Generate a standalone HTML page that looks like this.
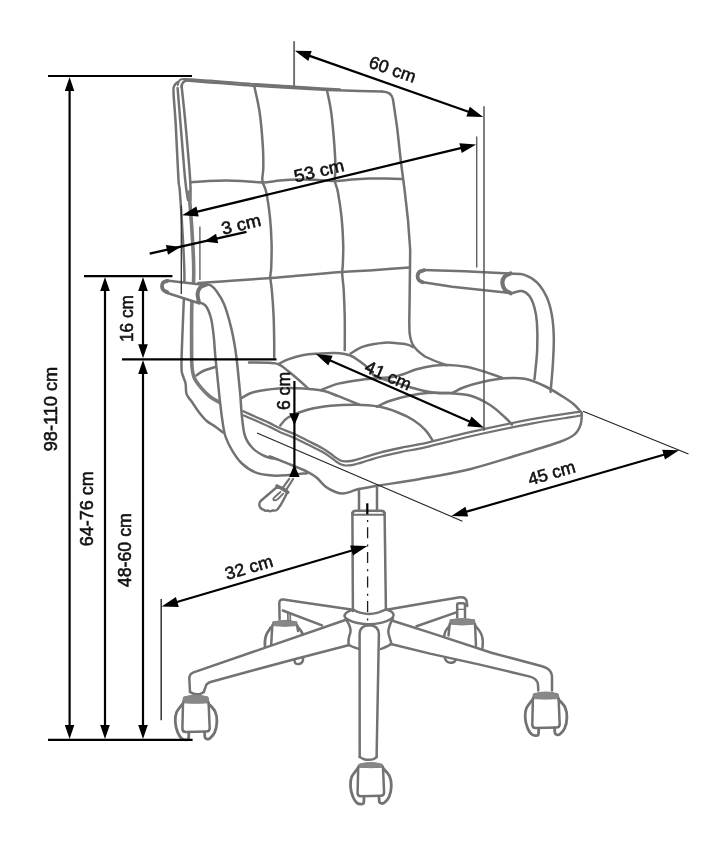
<!DOCTYPE html>
<html><head><meta charset="utf-8"><title>chair</title>
<style>
html,body{margin:0;padding:0;background:#fff;}
body{width:723px;height:854px;overflow:hidden;}
svg{display:block;filter:blur(0.35px);}
text{font-family:"Liberation Sans",sans-serif;fill:#111;}
</style></head><body>
<svg width="723" height="854" viewBox="0 0 723 854">
<rect width="723" height="854" fill="#fff"/>
<path d="M181.6,87 Q182,81 187,80.6" stroke="#727272" stroke-width="2.5" fill="none" stroke-linecap="round" stroke-linejoin="round"/>
<path d="M187.0,80.6 C190.8,80.9 202.5,81.8 210.0,82.4 C217.5,83.0 224.3,83.4 232.0,84.0 C239.7,84.6 248.0,85.3 256.0,85.8 C264.0,86.3 271.0,86.7 280.0,87.2 C289.0,87.7 299.2,88.4 310.0,89.0 C320.8,89.6 333.0,90.2 345.0,90.6 C357.0,91.0 375.8,91.4 382.0,91.6" stroke="#727272" stroke-width="2.5" fill="none" stroke-linecap="round" stroke-linejoin="round"/>
<path d="M382,91.6 Q391.6,91.8 393,99.5 L397.2,128 L400.8,161 L404.6,190 L408,220 L410.2,250 L409.6,300 L409.3,322 L409.5,332.4 Q410.5,340 412.4,344 Q415,349.5 424.9,356.5 Q435,361.5 446.5,365.2" stroke="#727272" stroke-width="2.5" fill="none" stroke-linecap="round" stroke-linejoin="round"/>
<path d="M177.8,85.0 C178.1,84.2 178.3,81.5 179.5,80.5 C180.7,79.5 179.9,78.9 185.0,78.9 C190.1,78.9 202.2,80.0 210.0,80.6 C217.8,81.1 224.3,81.6 232.0,82.2 C239.7,82.8 248.0,83.5 256.0,84.0 C264.0,84.5 271.0,84.9 280.0,85.5 C289.0,86.1 300.0,87.0 310.0,87.6 C320.0,88.2 335.0,89.0 340.0,89.3" stroke="#727272" stroke-width="2.0" fill="none" stroke-linecap="round" stroke-linejoin="round"/>
<path d="M254.3,86.2 C255.2,90.6 258.3,102.9 259.7,112.8 C261.1,122.7 262.2,136.4 262.8,145.6 C263.4,154.8 263.4,162.1 263.3,168.0 C263.2,173.9 261.9,177.0 262.4,181.0 C262.9,185.0 264.9,185.9 266.2,192.0 C267.5,198.1 269.1,209.0 270.0,217.7 C270.9,226.4 271.4,235.6 271.6,244.0 C271.8,252.4 271.4,262.5 271.2,268.0 C271.0,273.5 270.2,273.3 270.3,277.0 C270.4,280.7 271.2,283.5 271.8,290.0 C272.4,296.5 273.2,307.3 273.6,316.0 C274.0,324.7 274.1,335.1 274.2,342.0 C274.3,348.9 274.2,354.9 274.2,357.5" stroke="#727272" stroke-width="2.5" fill="none" stroke-linecap="round" stroke-linejoin="round"/>
<path d="M327.0,90.3 C327.7,94.0 330.1,103.6 331.3,112.8 C332.5,122.0 333.7,136.4 334.4,145.6 C335.1,154.8 335.4,162.2 335.5,168.0 C335.6,173.8 334.4,176.5 334.8,180.5 C335.2,184.5 336.8,185.8 337.9,192.0 C339.0,198.2 340.7,209.0 341.6,217.7 C342.5,226.4 343.0,236.1 343.2,244.0 C343.4,251.9 343.0,260.1 342.8,265.0 C342.6,269.9 342.1,269.2 342.2,273.4 C342.3,277.6 343.3,282.9 343.7,290.0 C344.1,297.1 344.5,307.3 344.7,316.0 C344.9,324.7 344.8,336.3 344.8,342.0 C344.8,347.7 344.7,348.7 344.7,350.0" stroke="#727272" stroke-width="2.5" fill="none" stroke-linecap="round" stroke-linejoin="round"/>
<path d="M190.3,182.2 C193.2,182.0 202.0,181.3 208.0,181.0 C214.0,180.7 220.3,180.5 226.5,180.5 C232.7,180.5 238.9,180.9 245.0,181.2 C251.1,181.5 257.0,182.5 262.8,182.4 C268.6,182.3 273.9,181.1 280.0,180.6 C286.1,180.1 293.2,179.7 299.5,179.6 C305.8,179.5 311.9,179.8 318.0,180.0 C324.1,180.2 330.6,181.1 336.3,181.0 C342.0,180.9 346.5,179.8 352.0,179.4 C357.5,179.0 363.5,178.7 369.2,178.5 C374.9,178.3 380.5,178.4 386.0,178.5 C391.5,178.6 399.6,178.9 402.3,179.0" stroke="#727272" stroke-width="2.5" fill="none" stroke-linecap="round" stroke-linejoin="round"/>
<path d="M198.5,283.0 C204.6,282.6 222.8,281.3 235.0,280.5 C247.2,279.7 259.7,278.9 271.5,278.0 C283.3,277.1 294.2,276.0 306.0,275.0 C317.8,274.0 330.8,272.8 342.5,272.0 C354.2,271.2 364.9,270.8 376.0,270.0 C387.1,269.2 403.8,267.8 409.4,267.4" stroke="#727272" stroke-width="2.5" fill="none" stroke-linecap="round" stroke-linejoin="round"/>
<path d="M243.3,411.3 C245.4,412.2 251.8,415.1 256.0,417.0 C260.2,418.9 264.7,420.7 268.7,422.6 C272.7,424.5 275.8,426.4 280.0,428.3 C284.2,430.2 289.2,431.7 293.8,433.8 C298.4,435.9 303.1,438.4 307.7,440.7 C312.3,443.0 317.8,445.6 321.5,447.7 C325.2,449.8 327.7,451.6 330.0,453.2 C332.3,454.8 333.6,456.1 335.3,457.3 C337.0,458.5 338.4,459.5 340.0,460.2 C341.6,460.9 343.2,461.3 345.0,461.4 C346.8,461.5 348.9,461.3 351.0,461.0 C353.1,460.7 354.7,460.2 357.5,459.4 C360.3,458.6 364.2,457.3 368.0,456.2 C371.8,455.1 374.7,454.0 380.0,452.6 C385.3,451.2 393.3,449.4 400.0,448.0 C406.7,446.6 411.7,446.0 420.0,444.2 C428.3,442.4 439.6,439.5 450.0,437.0 C460.4,434.5 468.5,432.4 482.2,429.4 C495.9,426.4 517.0,422.0 532.0,419.2 C547.0,416.4 563.8,414.0 572.0,412.8 C580.2,411.6 579.5,412.0 581.0,411.8" stroke="#727272" stroke-width="2.3" fill="none" stroke-linecap="round" stroke-linejoin="round"/>
<path d="M244.0,415.4 C246.1,416.4 252.5,419.2 256.7,421.1 C260.9,423.0 265.4,424.8 269.4,426.7 C273.4,428.6 276.5,430.5 280.7,432.4 C284.9,434.3 289.9,435.8 294.5,437.9 C299.1,440.0 303.8,442.5 308.4,444.8 C313.0,447.1 318.5,449.7 322.2,451.8 C325.9,453.9 328.4,455.7 330.7,457.3 C333.0,458.9 334.3,460.2 336.0,461.4 C337.7,462.6 339.1,463.6 340.7,464.3 C342.3,465.0 343.9,465.4 345.7,465.5 C347.5,465.6 349.6,465.4 351.7,465.1 C353.8,464.8 355.4,464.3 358.2,463.5 C361.0,462.7 364.9,461.4 368.7,460.3 C372.4,459.2 375.4,458.1 380.7,456.7 C386.0,455.3 394.0,453.5 400.7,452.1 C407.4,450.7 412.4,450.1 420.7,448.3 C429.0,446.5 440.3,443.6 450.7,441.1 C461.1,438.6 469.2,436.5 482.9,433.5 C496.6,430.5 517.7,426.1 532.7,423.3 C547.7,420.5 564.6,418.2 572.7,416.9 C580.8,415.6 580.0,415.6 581.5,415.3" stroke="#727272" stroke-width="2.2" fill="none" stroke-linecap="round" stroke-linejoin="round"/>
<path d="M270.0,456.3 C273.6,457.8 285.3,462.4 291.5,465.0 C297.7,467.6 302.8,469.5 307.0,471.6 C311.2,473.7 313.3,474.9 316.5,477.5 C319.7,480.1 322.8,484.6 326.0,487.0 C329.2,489.4 332.7,490.9 335.5,492.0 C338.3,493.1 340.4,493.7 343.0,493.6 C345.6,493.5 348.4,492.4 351.0,491.6 C353.6,490.8 354.5,490.0 358.8,489.0 C363.1,488.0 366.8,487.5 377.0,485.8 C387.2,484.1 404.5,481.8 420.0,479.0 C435.5,476.2 453.2,473.3 469.8,469.2 C486.4,465.1 504.7,459.0 519.6,454.5 C534.5,450.0 550.3,445.3 559.4,442.0 C568.5,438.7 570.8,437.5 574.3,434.6 C577.8,431.7 579.4,428.2 580.6,424.6 C581.9,421.0 581.6,414.9 581.8,413.0" stroke="#727272" stroke-width="2.5" fill="none" stroke-linecap="round" stroke-linejoin="round"/>
<path d="M249.0,362.6 C252.3,362.6 263.8,362.5 268.7,362.8 C273.6,363.1 275.2,362.8 278.4,364.2 C281.6,365.6 284.4,368.2 288.0,371.0 C291.6,373.8 296.4,377.9 299.7,380.7 C302.9,383.5 306.2,386.8 307.5,388.0" stroke="#727272" stroke-width="2.5" fill="none" stroke-linecap="round" stroke-linejoin="round"/>
<path d="M278.4,364.2 C280.0,363.4 283.8,360.9 288.0,359.4 C292.2,357.9 298.8,355.9 303.6,355.0 C308.4,354.1 311.8,354.0 317.0,353.7 C322.2,353.4 329.6,352.7 335.0,353.0 C340.4,353.3 345.6,353.9 349.7,355.3 C353.8,356.7 356.2,358.8 359.4,361.1 C362.6,363.4 366.3,366.3 369.0,368.9 C371.7,371.5 371.0,374.2 375.8,376.6 C380.6,379.0 391.1,381.3 398.0,383.4 C404.9,385.5 411.0,387.6 417.5,389.2 C424.0,390.8 431.0,392.4 436.8,393.0 C442.6,393.6 449.7,393.0 452.3,393.0" stroke="#727272" stroke-width="2.5" fill="none" stroke-linecap="round" stroke-linejoin="round"/>
<path d="M350.7,353.4 C352.8,352.3 357.6,348.4 363.2,346.6 C368.8,344.8 378.4,343.2 384.5,342.7 C390.6,342.2 396.0,343.2 400.0,343.6 C404.0,344.0 406.1,344.3 408.3,344.9 C410.5,345.5 412.2,346.8 413.0,347.2" stroke="#727272" stroke-width="2.5" fill="none" stroke-linecap="round" stroke-linejoin="round"/>
<path d="M241.6,398.0 C243.5,397.1 247.1,393.9 253.2,392.3 C259.3,390.7 270.0,389.0 278.4,388.4 C286.8,387.8 296.2,388.0 303.6,388.4 C311.0,388.8 317.2,389.4 323.0,390.7 C328.8,392.0 332.3,393.9 338.4,396.2 C344.5,398.5 355.9,403.3 359.4,404.7" stroke="#727272" stroke-width="2.5" fill="none" stroke-linecap="round" stroke-linejoin="round"/>
<path d="M321.0,390.0 C323.9,388.9 331.6,385.3 338.4,383.6 C345.2,381.9 354.5,380.6 361.7,379.7 C368.9,378.8 378.3,378.3 381.6,378.0" stroke="#727272" stroke-width="2.5" fill="none" stroke-linecap="round" stroke-linejoin="round"/>
<path d="M381.6,378.0 C383.3,377.8 388.3,377.7 392.0,377.0 C395.7,376.3 399.9,375.3 404.0,374.0 C408.1,372.7 411.7,370.6 416.6,369.2 C421.5,367.8 427.9,366.4 433.2,365.7 C438.5,365.0 442.9,364.8 448.4,365.0 C453.9,365.2 460.4,365.8 466.0,366.8 C471.6,367.8 476.2,369.2 482.2,371.0 C488.2,372.8 498.7,376.7 502.0,377.8" stroke="#727272" stroke-width="2.5" fill="none" stroke-linecap="round" stroke-linejoin="round"/>
<path d="M280.3,425.5 C281.6,424.2 283.5,420.1 288.0,417.5 C292.5,414.9 300.4,411.6 307.5,409.7 C314.6,407.8 322.6,406.6 330.7,405.8 C338.8,405.0 347.9,404.6 355.9,404.7 C363.9,404.8 371.7,405.3 378.7,406.6 C385.7,407.9 392.2,410.2 398.0,412.5 C403.8,414.8 409.1,417.3 413.6,420.2 C418.1,423.1 422.1,426.6 425.2,429.9 C428.3,433.2 431.2,438.3 432.4,440.0" stroke="#727272" stroke-width="2.5" fill="none" stroke-linecap="round" stroke-linejoin="round"/>
<path d="M376.8,406.6 C379.1,405.6 385.1,402.6 390.3,400.8 C395.5,399.0 401.7,397.3 407.8,396.0 C413.9,394.7 420.2,393.5 427.0,393.0 C433.8,392.5 441.3,392.6 448.4,393.0 C455.5,393.4 462.9,393.6 469.8,395.5 C476.7,397.4 483.9,401.1 489.7,404.7 C495.5,408.3 500.9,413.7 504.6,417.0 C508.3,420.3 510.8,423.3 512.0,424.6" stroke="#727272" stroke-width="2.5" fill="none" stroke-linecap="round" stroke-linejoin="round"/>
<path d="M452.3,393.0 C454.2,392.1 459.0,389.1 464.0,387.3 C469.0,385.5 475.4,383.5 482.2,382.0 C489.0,380.5 497.5,378.8 504.6,378.3 C511.7,377.8 518.0,377.5 524.6,378.8 C531.2,380.1 538.3,383.1 544.5,386.0 C550.7,388.9 556.9,392.9 561.9,396.0 C566.9,399.1 571.1,402.0 574.3,404.7 C577.5,407.4 579.9,410.9 581.0,412.2" stroke="#727272" stroke-width="2.5" fill="none" stroke-linecap="round" stroke-linejoin="round"/>
<path d="M178.0,82.0 C177.4,82.6 175.2,83.8 174.5,85.5 C173.8,87.2 173.3,85.2 173.5,92.0 C173.7,98.8 175.0,111.3 175.8,126.0 C176.6,140.7 177.8,169.3 178.5,180.0 C179.2,190.7 179.0,181.3 179.7,190.0 C180.4,198.7 181.7,218.0 182.5,232.0 C183.3,246.0 184.2,261.0 184.4,274.0 C184.6,287.0 183.8,299.0 183.4,310.0 C183.0,321.0 182.5,332.0 182.2,340.0 C181.9,348.0 181.7,352.7 181.6,358.0 C181.5,363.3 181.2,367.8 181.8,372.0 C182.5,376.2 184.7,379.5 185.5,383.2 C186.3,386.9 185.5,391.1 186.6,394.2 C187.7,397.3 190.0,399.0 192.0,402.0 C194.0,405.0 196.4,408.9 198.8,412.0 C201.2,415.1 203.6,418.2 206.5,420.8 C209.4,423.4 213.8,425.4 216.5,427.4 C219.2,429.3 221.9,431.6 223.0,432.5" stroke="#727272" stroke-width="2.5" fill="none" stroke-linecap="round" stroke-linejoin="round"/>
<path d="M177.6,88.0 C178.1,94.3 179.4,110.7 180.7,126.0 C182.0,141.3 184.0,167.7 185.2,180.0 C186.4,192.3 187.5,196.7 188.0,200.0" stroke="#727272" stroke-width="2.5" fill="none" stroke-linecap="round" stroke-linejoin="round"/>
<path d="M181.6,86.0 C182.3,92.7 184.3,110.3 185.7,126.0 C187.1,141.7 189.4,167.7 190.2,180.0 C191.0,192.3 190.4,196.7 190.4,200.0" stroke="#727272" stroke-width="2.5" fill="none" stroke-linecap="round" stroke-linejoin="round"/>
<path d="M189.0,192.0 C189.4,197.5 190.8,213.7 191.6,225.0 C192.3,236.3 193.2,250.8 193.5,260.0 C193.8,269.2 193.9,272.5 193.6,280.0 C193.3,287.5 192.1,293.3 191.8,305.0 C191.5,316.7 191.6,339.7 191.6,350.0 C191.6,360.3 191.6,362.0 192.0,366.6 C192.4,371.2 192.8,374.2 194.3,377.7 C195.8,381.2 198.4,384.5 201.0,387.6 C203.6,390.7 206.9,394.1 209.8,396.5 C212.8,398.9 217.2,401.1 218.7,402.0" stroke="#7c7c7c" stroke-width="3.6" fill="none" stroke-linecap="round"/>
<path d="M196.5,375.4 C197.6,374.7 199.9,372.5 203.2,371.0 C206.5,369.5 214.3,367.3 216.5,366.6" stroke="#727272" stroke-width="2.5" fill="none" stroke-linecap="round" stroke-linejoin="round"/>
<polygon points="163,281.5 166.3,280.6 201,284.6 206,284 199.5,303.2 165.8,292.5 162,288" fill="#fff"/>
<polygon points="205.3,283.9 211,285.5 216.4,291 224.1,304.2 230.8,326.4 235.2,348.5 237.9,370.6 240.2,394.2 241.9,416.4 245,436 253,448.5 264.5,456 277,459.3 272.7,475.6 272.7,475.6 256,472.7 241.9,463.5 232.2,450.6 225.3,436 222.3,420 220,401.6 217.7,379.5 215.4,357.3 213.6,335.2 210.8,317.5 205.3,305.4 197.6,302.2" fill="#fff"/>
<path d="M166.3,280.6 L201,284.6" stroke="#727272" stroke-width="2.5" fill="none" stroke-linecap="round" stroke-linejoin="round"/>
<path d="M165.8,292.5 L197.6,302.8" stroke="#727272" stroke-width="2.5" fill="none" stroke-linecap="round" stroke-linejoin="round"/>
<path d="M167.5,281.0 C166.8,281.2 164.3,281.6 163.4,282.4 C162.5,283.2 162.0,284.7 162.0,286.0 C162.0,287.3 162.4,289.0 163.3,290.0 C164.2,291.0 166.6,291.8 167.3,292.2" stroke="#727272" stroke-width="3.8" fill="none" stroke-linecap="round" stroke-linejoin="round"/>
<path d="M206.3,284.6 C205.3,285.1 201.8,285.8 200.3,287.3 C198.9,288.8 197.8,290.9 197.6,293.5 C197.4,296.1 198.8,301.2 199.0,302.8" stroke="#727272" stroke-width="4" fill="none" stroke-linecap="round" stroke-linejoin="round"/>
<path d="M205.3,283.9 C206.2,284.2 209.2,284.3 211.0,285.5 C212.8,286.7 214.2,287.9 216.4,291.0 C218.6,294.1 221.7,298.3 224.1,304.2 C226.5,310.1 229.0,319.0 230.8,326.4 C232.7,333.8 234.0,341.1 235.2,348.5 C236.4,355.9 237.1,363.0 237.9,370.6 C238.7,378.2 239.5,386.6 240.2,394.2 C240.9,401.8 241.1,409.4 241.9,416.4 C242.7,423.4 243.2,430.6 245.0,436.0 C246.8,441.4 249.8,445.2 253.0,448.5 C256.2,451.8 260.5,454.2 264.5,456.0 C268.5,457.8 274.9,458.8 277.0,459.3" stroke="#727272" stroke-width="2.5" fill="none" stroke-linecap="round" stroke-linejoin="round"/>
<path d="M197.6,302.2 C198.9,302.7 203.1,302.8 205.3,305.4 C207.5,307.9 209.4,312.5 210.8,317.5 C212.2,322.5 212.8,328.6 213.6,335.2 C214.4,341.8 214.7,349.9 215.4,357.3 C216.1,364.7 216.9,372.1 217.7,379.5 C218.5,386.9 219.2,394.9 220.0,401.6 C220.8,408.4 221.4,414.3 222.3,420.0 C223.2,425.7 223.7,430.9 225.3,436.0 C227.0,441.1 229.4,446.0 232.2,450.6 C235.0,455.2 237.9,459.8 241.9,463.5 C245.9,467.2 250.9,470.7 256.0,472.7 C261.1,474.7 267.2,475.2 272.7,475.6 C278.2,476.0 283.5,475.4 289.2,475.0 C294.9,474.6 304.0,473.5 307.0,473.2" stroke="#727272" stroke-width="2.5" fill="none" stroke-linecap="round" stroke-linejoin="round"/>
<path d="M423,270 L464.7,271.2 L509.5,273.4" stroke="#727272" stroke-width="2.5" fill="none" stroke-linecap="round" stroke-linejoin="round"/>
<path d="M421.5,282 L452.2,286.8 L484.6,290.3 L508,292.8" stroke="#727272" stroke-width="2.5" fill="none" stroke-linecap="round" stroke-linejoin="round"/>
<path d="M424.0,270.3 C423.2,270.6 420.4,271.0 419.3,272.0 C418.2,273.0 417.7,274.8 417.6,276.2 C417.6,277.6 418.1,279.2 419.0,280.2 C419.9,281.2 422.2,281.9 422.8,282.2" stroke="#727272" stroke-width="3.8" fill="none" stroke-linecap="round" stroke-linejoin="round"/>
<path d="M510.5,273.4 C509.5,273.9 506.0,275.1 504.6,276.7 C503.2,278.3 502.3,280.8 502.4,283.0 C502.5,285.2 503.6,288.1 505.0,289.8 C506.4,291.5 509.8,292.7 510.8,293.3" stroke="#727272" stroke-width="4.2" fill="none" stroke-linecap="round" stroke-linejoin="round"/>
<path d="M512.0,273.7 C514.1,273.9 520.2,273.4 524.4,274.9 C528.5,276.3 533.2,278.7 536.9,282.4 C540.6,286.1 544.3,291.9 546.8,297.3 C549.3,302.7 550.6,308.1 551.8,314.7 C553.0,321.3 553.6,329.1 553.8,337.0 C554.0,344.9 553.5,352.9 553.0,362.0 C552.5,371.1 551.0,386.9 550.6,391.9" stroke="#727272" stroke-width="2.5" fill="none" stroke-linecap="round" stroke-linejoin="round"/>
<path d="M513.2,292.8 C514.7,292.5 519.3,290.5 522.0,291.0 C524.7,291.5 527.3,293.3 529.4,296.0 C531.5,298.7 533.1,302.9 534.4,307.3 C535.6,311.7 536.4,315.1 536.9,322.2 C537.4,329.2 537.6,340.1 537.2,349.6 C536.8,359.1 535.0,374.1 534.5,379.0" stroke="#727272" stroke-width="2.5" fill="none" stroke-linecap="round" stroke-linejoin="round"/>
<path d="M289.2,478.8 L282.6,488.2" stroke="#727272" stroke-width="2.2" fill="none" stroke-linecap="round" stroke-linejoin="round"/>
<path d="M293.1,479 L286.5,489.3" stroke="#727272" stroke-width="2.2" fill="none" stroke-linecap="round" stroke-linejoin="round"/>
<path d="M277.6,486.5 L260.6,501 Q258.6,503.5 259.6,506.2 Q261,509.3 263.6,509.6 Q265.3,511.6 268,510.4 Q270.5,512 273,510.3 Q276,511.3 277.6,509.3 Q281,505 282.8,501.3 L287.2,492.6 Z" stroke="#727272" stroke-width="2.4" fill="none" stroke-linecap="round" stroke-linejoin="round"/>
<path d="M280.4,492.0 C279.3,493.0 274.8,496.6 273.8,498.0 C272.8,499.4 273.6,500.3 274.3,500.4 C275.0,500.5 276.7,499.8 278.2,498.7 C279.7,497.6 282.4,494.5 283.2,493.7" stroke="#727272" stroke-width="1.9" fill="none" stroke-linecap="round" stroke-linejoin="round"/>
<path d="M276.8,485.8 C277.7,486.2 280.1,487.1 282.0,488.2 C283.9,489.3 287.0,491.6 288.0,492.3" stroke="#727272" stroke-width="3.2" fill="none" stroke-linecap="round" stroke-linejoin="round"/>
<path d="M359,489 L359,511" stroke="#727272" stroke-width="2.5" fill="none" stroke-linecap="round" stroke-linejoin="round"/>
<path d="M377,486.5 L377,511" stroke="#727272" stroke-width="2.5" fill="none" stroke-linecap="round" stroke-linejoin="round"/>
<path d="M352.4,514 Q352.4,510.8 356,510.8 L381,510.8 Q384.6,510.8 384.6,514" stroke="#727272" stroke-width="2.5" fill="none" stroke-linecap="round" stroke-linejoin="round"/>
<path d="M352.4,514.8 L384.6,514.8" stroke="#727272" stroke-width="1.9" fill="none" stroke-linecap="round" stroke-linejoin="round"/>
<path d="M352.4,513 L352.9,611" stroke="#727272" stroke-width="2.5" fill="none" stroke-linecap="round" stroke-linejoin="round"/>
<path d="M384.6,513 L385.9,609" stroke="#727272" stroke-width="2.5" fill="none" stroke-linecap="round" stroke-linejoin="round"/>
<path d="M353.0,609.6 C354.2,610.1 357.3,611.9 360.0,612.6 C362.7,613.3 366.0,614.0 369.0,614.0 C372.0,614.0 375.2,613.4 378.0,612.6 C380.8,611.9 384.6,610.0 385.9,609.5" stroke="#727272" stroke-width="2.5" fill="none" stroke-linecap="round" stroke-linejoin="round"/>
<path d="M352.8,609.6 C351.8,610.0 348.4,611.2 347.0,612.3 C345.6,613.4 344.2,614.9 344.6,616.3 C345.0,617.6 347.4,619.3 349.5,620.4 C351.6,621.5 354.1,622.4 357.3,623.0 C360.6,623.6 364.9,624.4 369.0,624.3 C373.1,624.2 378.4,623.4 382.0,622.6 C385.6,621.8 388.6,620.5 390.5,619.3 C392.4,618.1 393.5,616.8 393.6,615.5 C393.7,614.2 392.6,612.6 391.3,611.6 C390.0,610.6 386.9,609.8 386.0,609.4" stroke="#727272" stroke-width="2.5" fill="none" stroke-linecap="round" stroke-linejoin="round"/>
<path d="M346.4,620.0 C346.9,621.0 348.9,624.1 349.6,626.0 C350.3,627.9 350.6,629.5 350.5,631.5 C350.4,633.5 349.1,636.2 348.8,638.0 C348.5,639.8 348.5,641.3 348.6,642.5 C348.7,643.7 347.7,644.2 349.4,645.3 C351.1,646.4 357.2,648.4 358.8,649.0" stroke="#727272" stroke-width="2.5" fill="none" stroke-linecap="round" stroke-linejoin="round"/>
<path d="M393.0,618.5 C392.5,619.4 391.0,621.8 390.2,624.0 C389.4,626.2 388.3,629.0 388.3,631.5 C388.3,634.0 389.6,636.9 390.0,639.0 C390.4,641.1 392.3,642.5 390.8,644.2 C389.3,645.9 382.6,648.2 381.0,649.0" stroke="#727272" stroke-width="2.5" fill="none" stroke-linecap="round" stroke-linejoin="round"/>
<path d="M359.7,757 L359.6,634 Q359.8,625.4 369.2,625.2 Q378.5,625.4 378.9,634 L376.6,757" stroke="#727272" stroke-width="2.5" fill="none" stroke-linecap="round" stroke-linejoin="round"/>
<path d="M359.7,757.0 C360.4,757.4 362.4,758.7 364.0,759.2 C365.6,759.7 367.4,759.8 369.0,759.8 C370.6,759.8 372.2,759.7 373.5,759.2 C374.8,758.7 376.1,757.4 376.6,757.0" stroke="#727272" stroke-width="2.5" fill="none" stroke-linecap="round" stroke-linejoin="round"/>
<path d="M346,619.8 L193.6,672.4 Q189.3,674 189.3,678.3 L190,692" stroke="#727272" stroke-width="2.5" fill="none" stroke-linecap="round" stroke-linejoin="round"/>
<path d="M349.3,645 L294.4,659.3 L247,672 L210.5,682 Q206.3,683.3 205.6,686.8 L203.8,692" stroke="#727272" stroke-width="2.5" fill="none" stroke-linecap="round" stroke-linejoin="round"/>
<path d="M190.0,692.0 C190.6,692.3 192.3,693.4 193.5,693.8 C194.7,694.2 195.8,694.3 197.0,694.3 C198.2,694.3 199.4,694.2 200.5,693.8 C201.6,693.4 203.2,692.3 203.8,692.0" stroke="#727272" stroke-width="2.5" fill="none" stroke-linecap="round" stroke-linejoin="round"/>
<path d="M353,609.7 L300,602 L283.6,599.6 Q279.3,599 279.3,603 L279.6,619.5" stroke="#727272" stroke-width="2.5" fill="none" stroke-linecap="round" stroke-linejoin="round"/>
<path d="M282.8,610.5 L322,625.4" stroke="#727272" stroke-width="2.5" fill="none" stroke-linecap="round" stroke-linejoin="round"/>
<path d="M386.5,609.7 L430,602.2 L460,597.2 Q466.2,596.6 466.8,602 L467.2,606" stroke="#727272" stroke-width="2.5" fill="none" stroke-linecap="round" stroke-linejoin="round"/>
<path d="M416.5,626.2 L456.2,612.4" stroke="#727272" stroke-width="2.5" fill="none" stroke-linecap="round" stroke-linejoin="round"/>
<path d="M393.4,621 L430,632.6 L492.2,653 L542,666.2 Q551.5,668.8 552,676 L552,690.5" stroke="#727272" stroke-width="2.5" fill="none" stroke-linecap="round" stroke-linejoin="round"/>
<path d="M390.8,644 L430,653.6 L479.8,664.6 L530,676.6 Q537.5,678.6 538,685 L538.3,690.5" stroke="#727272" stroke-width="2.5" fill="none" stroke-linecap="round" stroke-linejoin="round"/>
<path d="M358.8,764.3 Q370.6,760.6999999999999 382.4,764.3 L383.6,767.2 Q370.6,768.2 357.59999999999997,767.2 Z" fill="#878787" stroke="#828282" stroke-width="1"/>
<path d="M358.2,767.1 L357.59999999999997,793.0 Q357.7,796.3 360.8,796.3 L380.8,795.8 Q383.9,795.6999999999999 384.1,792.6999999999999 L383,767.1" stroke="#727272" stroke-width="2.5" fill="none" stroke-linecap="round" stroke-linejoin="round"/>
<path d="M357.7,768.4 C356.7,769.9 352.8,774.1 351.6,777.1 C350.4,780.1 350.3,783.3 350.5,786.6 C350.7,789.9 351.9,794.3 353.0,797.0 C354.1,799.7 355.6,801.7 356.9,802.9 C358.2,804.1 359.6,804.2 360.7,804.2 C361.8,804.2 363.0,804.4 363.6,803.2 C364.1,802.0 363.9,798.2 364.0,797.2" stroke="#727272" stroke-width="2.8" fill="none" stroke-linecap="round" stroke-linejoin="round"/>
<path d="M383.3,768.4 C384.4,769.7 388.3,773.2 389.6,776.2 C390.9,779.2 391.4,782.8 391.3,786.2 C391.2,789.6 390.3,794.0 389.1,796.8 C387.9,799.6 385.6,801.7 384.3,802.8 C383.0,803.9 382.3,803.5 381.5,803.4 C380.7,803.3 379.8,803.2 379.4,802.0 C379.0,800.8 379.1,797.3 379.0,796.4" stroke="#727272" stroke-width="2.8" fill="none" stroke-linecap="round" stroke-linejoin="round"/>
<path d="M183.6,697 Q195.8,693.4 208.0,697 L209.2,702.8000000000001 Q195.8,703.8000000000001 182.4,702.8000000000001 Z" fill="#878787" stroke="#828282" stroke-width="1"/>
<path d="M183,702.7 L182.4,728.6 Q182.5,731.9 185.6,731.9 L206.4,731.4 Q209.5,731.3 209.7,728.3 L208.6,702.7" stroke="#727272" stroke-width="2.5" fill="none" stroke-linecap="round" stroke-linejoin="round"/>
<path d="M182.5,704.0 C181.5,705.5 177.6,709.7 176.4,712.7 C175.2,715.7 175.1,718.9 175.3,722.2 C175.5,725.5 176.7,729.9 177.8,732.6 C178.9,735.3 180.4,737.3 181.7,738.5 C183.0,739.7 184.4,739.8 185.5,739.8 C186.6,739.9 187.8,740.0 188.4,738.8 C189.0,737.6 188.7,733.8 188.8,732.8" stroke="#727272" stroke-width="2.8" fill="none" stroke-linecap="round" stroke-linejoin="round"/>
<path d="M208.9,704.0 C209.9,705.3 213.9,708.8 215.2,711.8 C216.5,714.8 217.0,718.4 216.9,721.8 C216.8,725.2 215.9,729.6 214.7,732.4 C213.5,735.2 211.2,737.3 209.9,738.4 C208.6,739.5 207.9,739.1 207.1,739.0 C206.3,738.9 205.4,738.8 205.0,737.6 C204.6,736.4 204.7,732.9 204.6,732.0" stroke="#727272" stroke-width="2.8" fill="none" stroke-linecap="round" stroke-linejoin="round"/>
<path d="M533.5,693.8 Q545.75,690.1999999999999 558.0,693.8 L559.2,698.6 Q545.75,699.6 532.3,698.6 Z" fill="#878787" stroke="#828282" stroke-width="1"/>
<path d="M532.9,698.5 L532.3,724.6 Q532.4,727.9 535.5,727.9 L556.4,727.4 Q559.5,727.3 559.7,724.3 L558.6,698.5" stroke="#727272" stroke-width="2.5" fill="none" stroke-linecap="round" stroke-linejoin="round"/>
<path d="M532.4,699.8 C531.4,701.2 527.5,705.5 526.3,708.5 C525.1,711.5 525.0,714.7 525.2,718.0 C525.4,721.3 526.6,725.7 527.7,728.4 C528.8,731.1 530.3,733.1 531.6,734.3 C532.9,735.5 534.3,735.5 535.4,735.6 C536.5,735.7 537.8,735.8 538.3,734.6 C538.8,733.4 538.6,729.6 538.7,728.6" stroke="#727272" stroke-width="2.8" fill="none" stroke-linecap="round" stroke-linejoin="round"/>
<path d="M558.9,699.8 C560.0,701.1 563.9,704.6 565.2,707.6 C566.5,710.6 567.0,714.2 566.9,717.6 C566.8,721.0 565.9,725.4 564.7,728.2 C563.5,731.0 561.2,733.1 559.9,734.2 C558.6,735.3 557.9,734.9 557.1,734.8 C556.3,734.7 555.4,734.6 555.0,733.4 C554.6,732.2 554.7,728.7 554.6,727.8" stroke="#727272" stroke-width="2.8" fill="none" stroke-linecap="round" stroke-linejoin="round"/>
<path d="M272.8,621.8 Q285,618.8 296.8,621.8 L297.4,625.6 Q285,627 272.2,625.6 Z" fill="#878787" stroke="#828282" stroke-width="1"/>
<path d="M272.3,625.5 L271.2,644.5" stroke="#727272" stroke-width="2.5" fill="none" stroke-linecap="round" stroke-linejoin="round"/>
<path d="M297.3,625.5 L298,631" stroke="#727272" stroke-width="2.5" fill="none" stroke-linecap="round" stroke-linejoin="round"/>
<path d="M270.8,627.5 C270.1,628.7 267.4,632.2 266.4,634.5 C265.4,636.8 265.2,639.0 265.0,641.0 C264.8,643.0 265.0,645.6 265.0,646.5" stroke="#727272" stroke-width="2.8" fill="none" stroke-linecap="round" stroke-linejoin="round"/>
<path d="M297.8,627.0 C298.3,627.7 300.2,629.8 301.0,631.0 C301.8,632.2 302.5,633.9 302.8,634.5" stroke="#727272" stroke-width="2.8" fill="none" stroke-linecap="round" stroke-linejoin="round"/>
<path d="M287.8,613.5 L288,620.5 M290.2,614.3 L290.3,620.5" stroke="#727272" stroke-width="1.7" fill="none" stroke-linecap="round" stroke-linejoin="round"/>
<path d="M294.4,660.0 C294.6,660.6 294.7,662.7 295.5,663.4 C296.3,664.1 297.9,664.2 299.0,664.0 C300.1,663.8 301.6,663.0 302.3,662.0 C303.0,661.0 303.1,658.8 303.2,658.2" stroke="#727272" stroke-width="2.5" fill="none" stroke-linecap="round" stroke-linejoin="round"/>
<path d="M457.2,605 Q457,603.2 459,603.2 L463,603.2 Q465,603.2 465,605 L465,617.5 M457.2,605 L457.2,617.5" stroke="#727272" stroke-width="2.5" fill="none" stroke-linecap="round" stroke-linejoin="round"/>
<path d="M457.4,609.3 L465,609.3" stroke="#727272" stroke-width="1.3" fill="none" stroke-linecap="round" stroke-linejoin="round"/>
<path d="M450,619.8 Q462,617 474.6,619.8 L475,624 Q462,626 449.7,624 Z" fill="#878787" stroke="#828282" stroke-width="1"/>
<path d="M449.7,624 L448.5,635.5" stroke="#727272" stroke-width="2.5" fill="none" stroke-linecap="round" stroke-linejoin="round"/>
<path d="M475,624 L476,646" stroke="#727272" stroke-width="2.5" fill="none" stroke-linecap="round" stroke-linejoin="round"/>
<path d="M475.2,625.5 C476.2,626.8 479.7,630.9 481.0,633.5 C482.3,636.1 482.6,638.5 482.8,641.0 C483.0,643.5 482.5,647.2 482.4,648.5" stroke="#727272" stroke-width="2.5" fill="none" stroke-linecap="round" stroke-linejoin="round"/>
<path d="M449.0,626.5 C448.4,627.2 446.4,629.3 445.6,631.0 C444.8,632.7 444.3,635.6 444.0,636.5" stroke="#727272" stroke-width="2.5" fill="none" stroke-linecap="round" stroke-linejoin="round"/>
<path d="M445.0,658.6 C445.3,659.1 446.1,660.9 447.0,661.6 C447.9,662.3 449.3,662.7 450.5,662.8 C451.7,662.9 453.1,662.4 454.0,662.0 C454.9,661.6 455.3,660.5 455.6,660.2" stroke="#727272" stroke-width="2.5" fill="none" stroke-linecap="round" stroke-linejoin="round"/>
<line x1="48" y1="76" x2="192" y2="76" stroke="#000" stroke-width="2.2"/>
<line x1="48" y1="739.8" x2="192.6" y2="739.8" stroke="#000" stroke-width="2.2"/>
<line x1="69.6" y1="85.4" x2="69.6" y2="730.6" stroke="#000" stroke-width="2.2"/>
<polygon points="69.6,77.0 74.3,91.0 64.8,91.0" fill="#000"/>
<polygon points="69.6,739.0 64.8,725.0 74.3,725.0" fill="#000"/>
<line x1="84" y1="276.1" x2="172.4" y2="276.1" stroke="#000" stroke-width="2.2"/>
<line x1="105.0" y1="285.4" x2="105.0" y2="730.6" stroke="#000" stroke-width="2.2"/>
<polygon points="105.0,277.0 109.8,291.0 100.2,291.0" fill="#000"/>
<polygon points="105.0,739.0 100.2,725.0 109.8,725.0" fill="#000"/>
<line x1="122" y1="359.3" x2="276.5" y2="359.3" stroke="#000" stroke-width="2.2"/>
<line x1="143.0" y1="285.4" x2="143.0" y2="349.9" stroke="#000" stroke-width="2.2"/>
<polygon points="143.0,277.0 147.8,291.0 138.2,291.0" fill="#000"/>
<polygon points="143.0,358.3 138.2,344.3 147.8,344.3" fill="#000"/>
<line x1="143.0" y1="368.4" x2="143.0" y2="730.6" stroke="#000" stroke-width="2.2"/>
<polygon points="143.0,360.0 147.8,374.0 138.2,374.0" fill="#000"/>
<polygon points="143.0,739.0 138.2,725.0 147.8,725.0" fill="#000"/>
<line x1="294.1" y1="41.2" x2="294.1" y2="87.3" stroke="#6e6e6e" stroke-width="1.9"/>
<line x1="484" y1="106.2" x2="484" y2="430.7" stroke="#555" stroke-width="1.5"/>
<line x1="476.7" y1="136.5" x2="476.7" y2="267.4" stroke="#606060" stroke-width="1.4"/>
<line x1="181.3" y1="205.4" x2="181.3" y2="294" stroke="#333" stroke-width="1.3"/>
<line x1="199.9" y1="226.5" x2="199.9" y2="280" stroke="#6e6e6e" stroke-width="1.5"/>
<line x1="161.2" y1="599" x2="161.2" y2="720.3" stroke="#333" stroke-width="1.5"/>
<line x1="257" y1="433" x2="462.4" y2="521.2" stroke="#222" stroke-width="1.1"/>
<line x1="583" y1="411.3" x2="688.5" y2="454" stroke="#222" stroke-width="1.1"/>
<line x1="304.0" y1="53.9" x2="474.1" y2="113.8" stroke="#000" stroke-width="2.2"/>
<polygon points="294.9,50.7 311.7,51.1 308.3,60.9" fill="#000"/>
<polygon points="483.2,117.0 466.4,116.6 469.8,106.8" fill="#000"/>
<line x1="191.3" y1="213.1" x2="466.8" y2="146.6" stroke="#000" stroke-width="2.2"/>
<polygon points="182.0,215.3 196.4,206.6 198.7,216.5" fill="#000"/>
<polygon points="476.1,144.4 461.7,153.1 459.4,143.2" fill="#000"/>
<line x1="149.7" y1="253.6" x2="246.5" y2="231.9" stroke="#000" stroke-width="2.2"/>
<polygon points="180.6,246.9 168.0,254.7 165.9,245.1" fill="#000"/>
<polygon points="204.0,241.5 216.1,233.7 218.2,243.3" fill="#000"/>
<line x1="324.6" y1="358.0" x2="475.2" y2="423.9" stroke="#000" stroke-width="2.2"/>
<polygon points="315.8,354.1 332.6,355.7 328.3,365.4" fill="#000"/>
<polygon points="484.0,427.8 467.2,426.2 471.5,416.5" fill="#000"/>
<line x1="460.6" y1="513.4" x2="669.8" y2="453.0" stroke="#000" stroke-width="2.2"/>
<polygon points="451.4,516.1 465.4,506.8 468.2,516.6" fill="#000"/>
<polygon points="679.0,450.3 665.0,459.6 662.2,449.8" fill="#000"/>
<line x1="171.0" y1="603.7" x2="357.9" y2="548.7" stroke="#000" stroke-width="2.2"/>
<polygon points="161.6,606.5 175.9,596.9 178.8,606.9" fill="#000"/>
<polygon points="367.3,545.9 353.0,555.5 350.1,545.5" fill="#000"/>
<line x1="294.4" y1="381" x2="294.4" y2="470" stroke="#000" stroke-width="2.2"/>
<polygon points="294.4,425.3 289.2,413.3 299.5,413.3" fill="#000"/>
<polygon points="294.3,464.4 299.6,477.1 289.1,477.1" fill="#000"/>
<line x1="367.3" y1="503.3" x2="367.3" y2="514.3" stroke="#000" stroke-width="2.2"/>
<line x1="367.6" y1="520" x2="367.6" y2="622" stroke="#1a1a1a" stroke-width="1.3" stroke-dasharray="2 5.3 11 6.3"/>
<text x="0" y="0" font-size="17.6" stroke="#111" stroke-width="0.55" text-anchor="middle" textLength="84.5" lengthAdjust="spacingAndGlyphs" transform="translate(50.8,409) rotate(-90)" dy="0.36em">98-110 cm</text>
<text x="0" y="0" font-size="17.6" stroke="#111" stroke-width="0.55" text-anchor="middle" textLength="75" lengthAdjust="spacingAndGlyphs" transform="translate(86.6,508.8) rotate(-90)" dy="0.36em">64-76 cm</text>
<text x="0" y="0" font-size="17.6" stroke="#111" stroke-width="0.55" text-anchor="middle" textLength="74" lengthAdjust="spacingAndGlyphs" transform="translate(124.3,550.2) rotate(-90)" dy="0.36em">48-60 cm</text>
<text x="0" y="0" font-size="17.6" stroke="#111" stroke-width="0.55" text-anchor="middle" textLength="47" lengthAdjust="spacingAndGlyphs" transform="translate(126.6,318.5) rotate(-90)" dy="0.36em">16 cm</text>
<text x="0" y="0" font-size="17.6" stroke="#111" stroke-width="0.55" text-anchor="middle" textLength="38" lengthAdjust="spacingAndGlyphs" transform="translate(284,391) rotate(-90)" dy="0.36em">6 cm</text>
<text x="0" y="0" font-size="17.6" stroke="#111" stroke-width="0.55" text-anchor="middle" textLength="48.5" lengthAdjust="spacingAndGlyphs" transform="translate(392.6,69) rotate(19.3)" dy="0.36em">60 cm</text>
<text x="0" y="0" font-size="17.6" stroke="#111" stroke-width="0.55" text-anchor="middle" textLength="51" lengthAdjust="spacingAndGlyphs" transform="translate(319,170.4) rotate(-13.2)" dy="0.36em">53 cm</text>
<text x="0" y="0" font-size="17.6" stroke="#111" stroke-width="0.55" text-anchor="middle" textLength="40" lengthAdjust="spacingAndGlyphs" transform="translate(241,224) rotate(-13.2)" dy="0.36em">3 cm</text>
<text x="0" y="0" font-size="17.6" stroke="#111" stroke-width="0.55" text-anchor="middle" textLength="48.5" lengthAdjust="spacingAndGlyphs" transform="translate(388.3,375.2) rotate(23.7)" dy="0.36em">41 cm</text>
<text x="0" y="0" font-size="17.6" stroke="#111" stroke-width="0.55" text-anchor="middle" textLength="48.5" lengthAdjust="spacingAndGlyphs" transform="translate(551.5,472.6) rotate(-16.1)" dy="0.36em">45 cm</text>
<text x="0" y="0" font-size="17.6" stroke="#111" stroke-width="0.55" text-anchor="middle" textLength="49" lengthAdjust="spacingAndGlyphs" transform="translate(248.8,567) rotate(-16.4)" dy="0.36em">32 cm</text>
</svg>
</body></html>
